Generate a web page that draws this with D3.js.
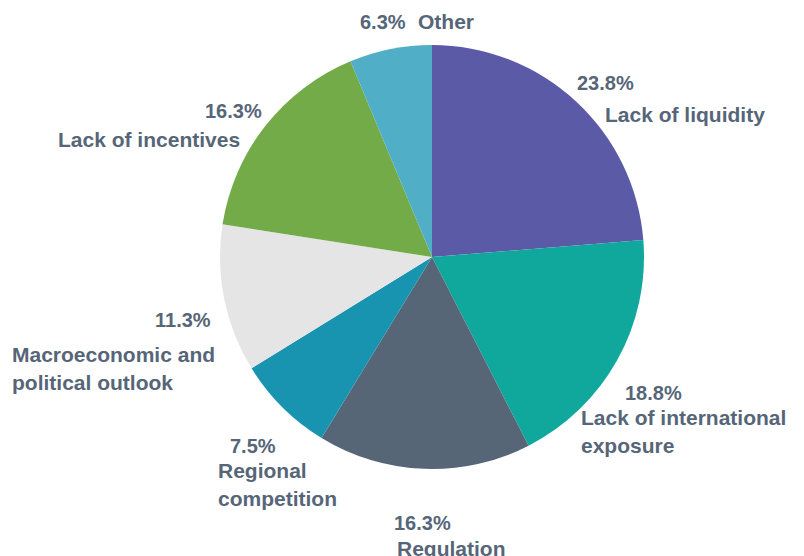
<!DOCTYPE html>
<html>
<head>
<meta charset="utf-8">
<script src="https://cdn.jsdelivr.net/npm/d3@7"></script>
<style>
  html, body { margin: 0; padding: 0; background: #ffffff; }
  svg text { font-family: "Liberation Sans", Arial, sans-serif; font-weight: bold; fill: #566678; }
</style>
</head>
<body>
<svg id="chart" width="804" height="556"></svg>
<script>
// Barriers shares, clockwise from 12 o'clock
const categories = [
  "Lack of liquidity",
  "Lack of international exposure",
  "Regulation",
  "Regional competition",
  "Macroeconomic and political outlook",
  "Lack of incentives",
  "Other"
];
const values = [23.8, 18.8, 16.3, 7.5, 11.3, 16.3, 6.3];
const valueLabels = ["23.8%", "18.8%", "16.3%", "7.5%", "11.3%", "16.3%", "6.3%"];
const nameLines = [
  ["Lack of liquidity"],
  ["Lack of international", "exposure"],
  ["Regulation"],
  ["Regional", "competition"],
  ["Macroeconomic and", "political outlook"],
  ["Lack of incentives"],
  ["Other"]
];
const colors = ["#5b5aa6", "#10a89d", "#566677", "#1894b1", "#e5e5e5", "#72ab48", "#50afc6"];

// Label placement (left x, baseline y) for the value text and the first name line
const labelLayout = [
  { vx: 577, vy: 90,  nx: 605, ny: 122 },
  { vx: 625, vy: 400, nx: 581, ny: 425 },
  { vx: 394, vy: 530, nx: 397, ny: 556 },
  { vx: 230, vy: 453, nx: 218, ny: 478 },
  { vx: 155, vy: 327, nx: 12,  ny: 362 },
  { vx: 205, vy: 118, nx: 58,  ny: 147 },
  { vx: 360, vy: 29,  nx: 418, ny: 29 }
];

const cx = 432, cy = 257, radius = 212;
const valueSize = 20, nameSize = 21, lineGap = 28;

const svg = d3.select("#chart");

const pie = d3.pie().sort(null).value(d => d.value);
const arc = d3.arc().innerRadius(0).outerRadius(radius);

const data = categories.map((c, i) => ({ name: c, value: values[i], color: colors[i] }));

const g = svg.append("g").attr("transform", `translate(${cx},${cy})`);
g.selectAll("path")
  .data(pie(data))
  .join("path")
  .attr("d", arc)
  .attr("fill", d => d.data.color);

const labels = svg.append("g");
labelLayout.forEach((p, i) => {
  labels.append("text")
    .attr("x", p.vx).attr("y", p.vy)
    .attr("font-size", valueSize)
    .text(valueLabels[i]);
  nameLines[i].forEach((line, k) => {
    labels.append("text")
      .attr("x", p.nx).attr("y", p.ny + k * lineGap)
      .attr("font-size", nameSize)
      .text(line);
  });
});
</script>
</body>
</html>
